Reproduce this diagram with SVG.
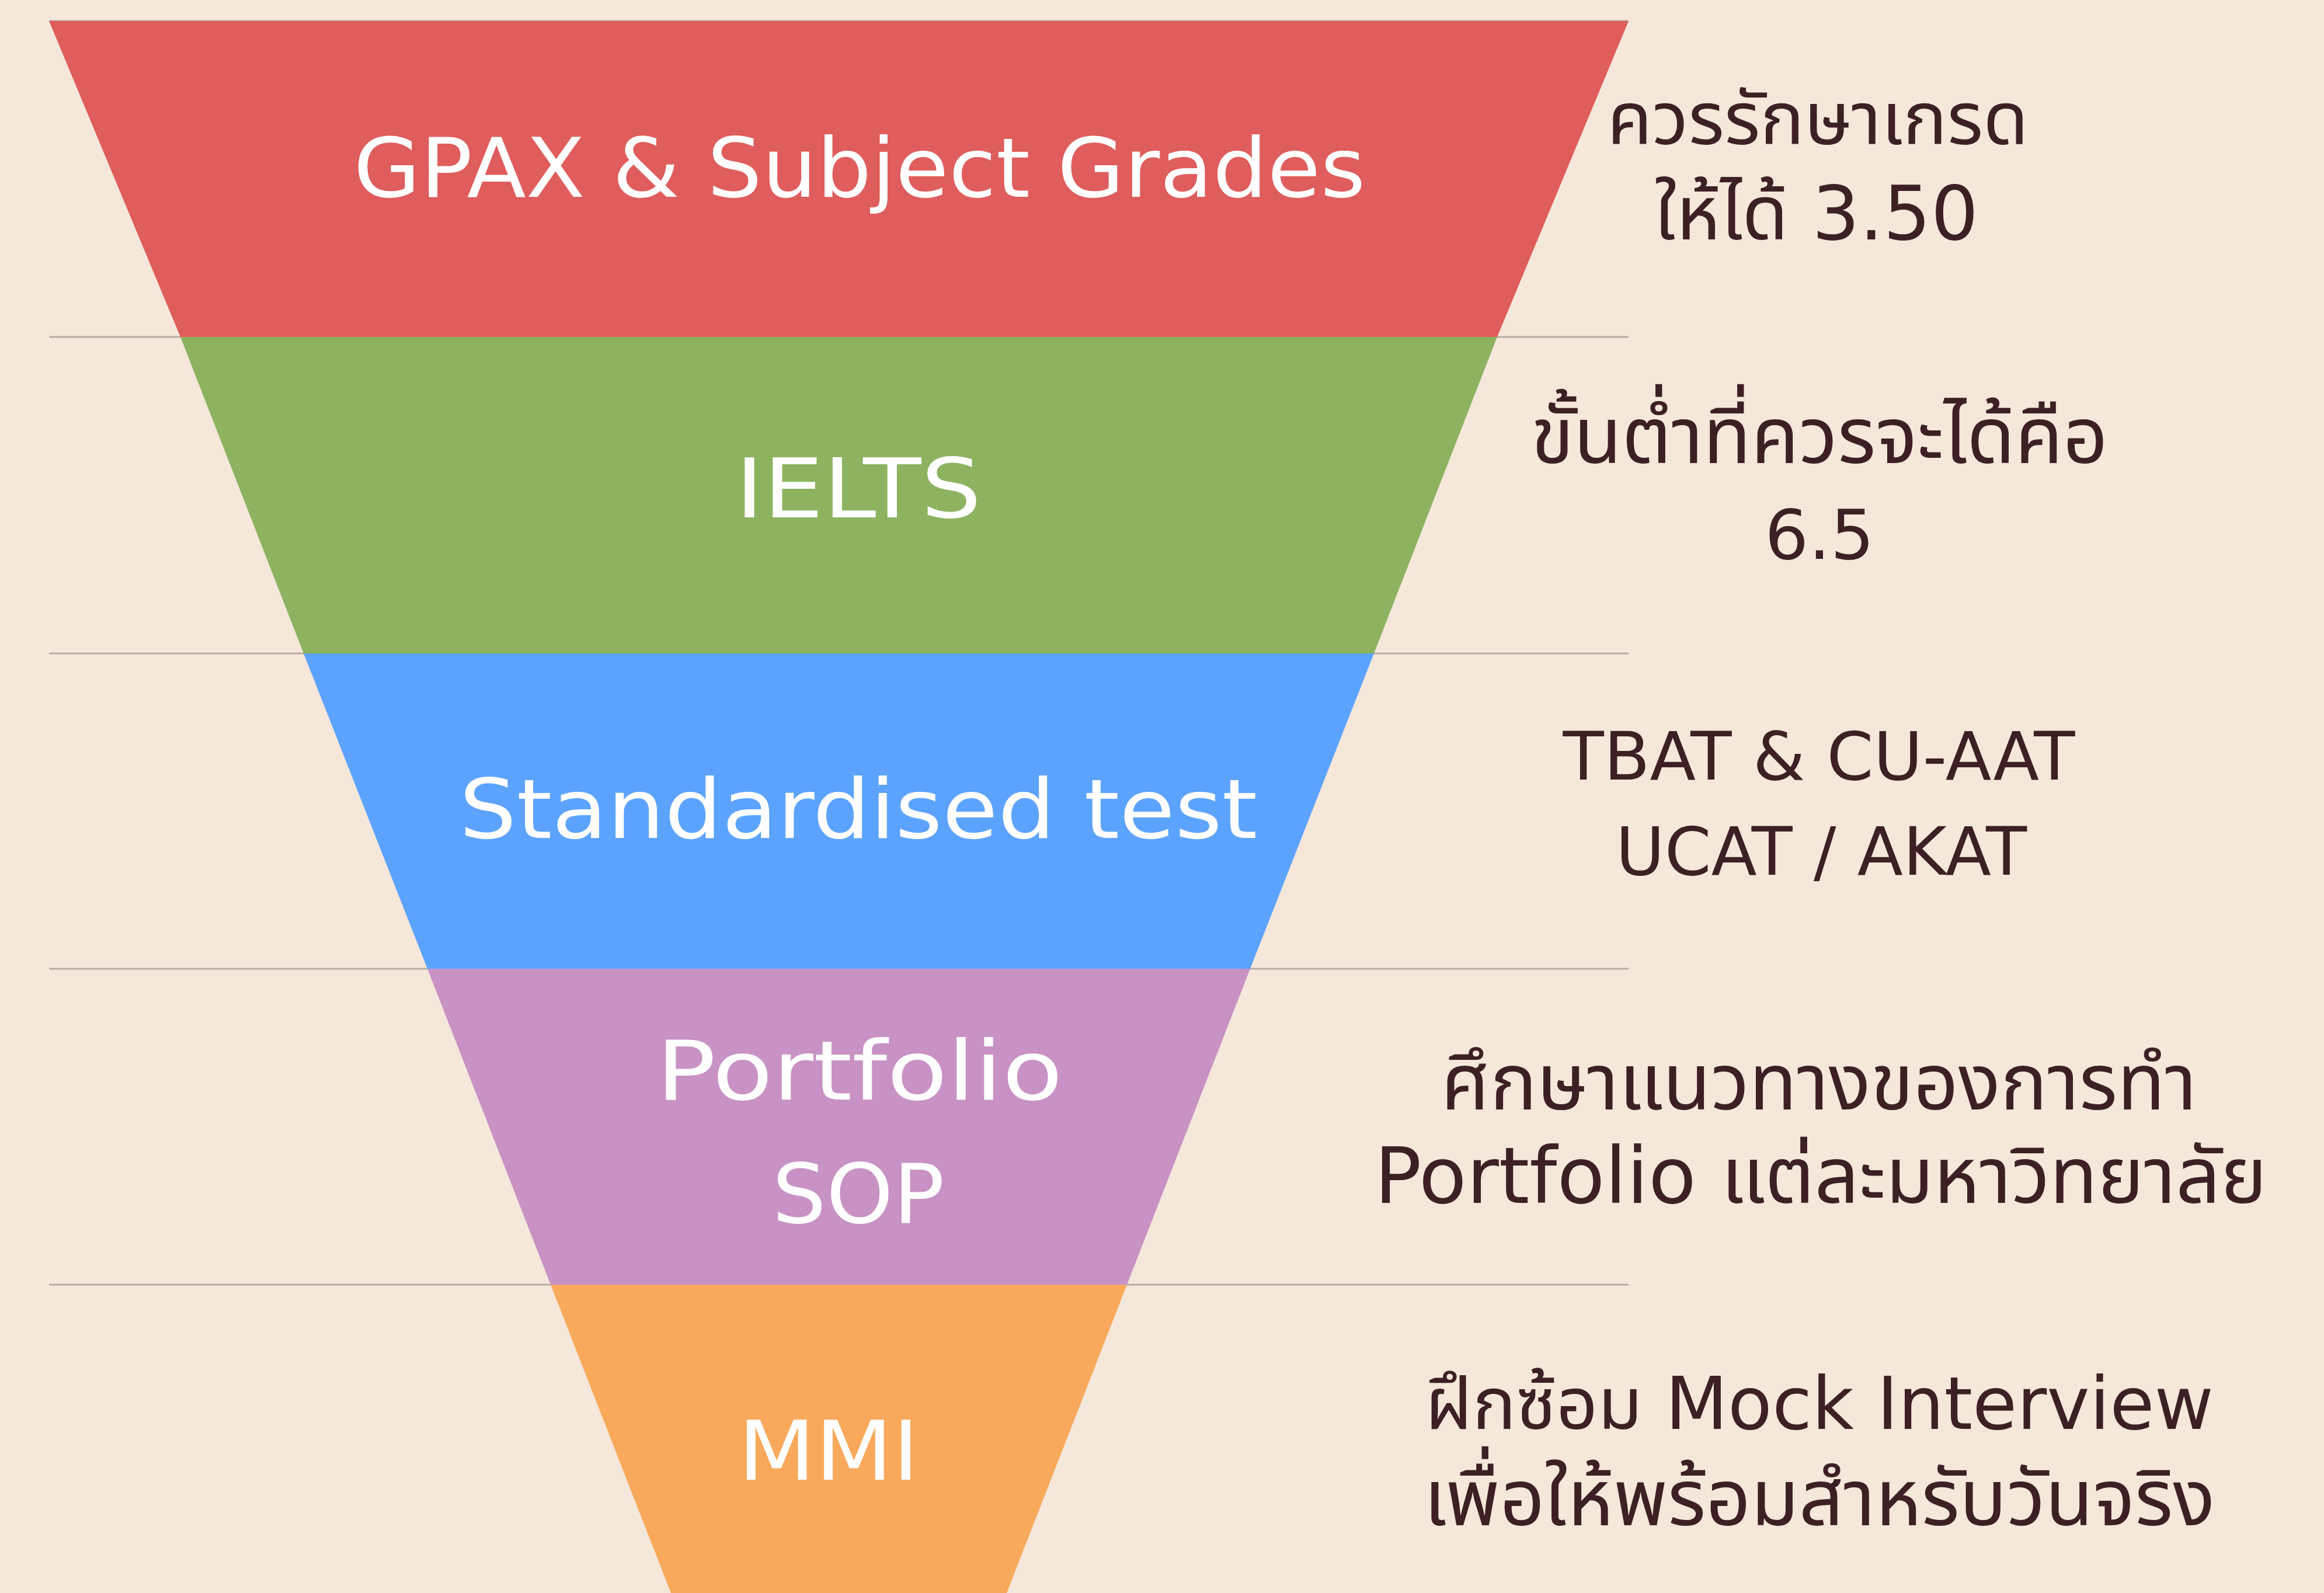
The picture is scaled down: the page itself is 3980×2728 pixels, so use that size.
<svg xmlns="http://www.w3.org/2000/svg" width="3980" height="2728" viewBox="0 0 3980 2728">
  <style>
    .lbl { font-family: "DejaVu Sans", "Noto Sans Thai", "Noto Sans Thai Looped", "Loma", "Garuda", "Noto Sans", sans-serif; fill: #ffffff; font-size: 141px; text-anchor: middle; }
    .note { font-family: "DejaVu Sans", "Noto Sans Thai", "Noto Sans Thai Looped", "Loma", "Garuda", "Noto Sans", sans-serif; fill: #3d2024; font-size: 114px; text-anchor: middle; }
    .sep { stroke: #b9ada2; stroke-width: 3; fill: none; }
  </style>
  <rect x="0" y="0" width="3980" height="2728" fill="#f5e7da"/>
  <g id="separators">
    <line class="sep" x1="84" y1="36" x2="2789" y2="36"/>
    <line class="sep" x1="84" y1="577" x2="2789" y2="577"/>
    <line class="sep" x1="84" y1="1119" x2="2789" y2="1119"/>
    <line class="sep" x1="84" y1="1659" x2="2789" y2="1659"/>
    <line class="sep" x1="84" y1="2200" x2="2789" y2="2200"/>
  </g>
  <g id="band-gpax">
    <polygon points="84,36 2789,36 2564,577 309,577" fill="#df5d5c"/>
    <text class="lbl" x="1472" y="337" textLength="1733" lengthAdjust="spacingAndGlyphs">GPAX &amp; Subject Grades</text>
  </g>
  <g id="band-ielts">
    <polygon points="309,577 2564,577 2353,1119 520,1119" fill="#8db360"/>
    <text class="lbl" x="1470" y="886" textLength="421" lengthAdjust="spacingAndGlyphs">IELTS</text>
  </g>
  <g id="band-standardised">
    <polygon points="520,1119 2353,1119 2141,1659 732,1659" fill="#5ca3ff"/>
    <text class="lbl" x="1470" y="1435" textLength="1367" lengthAdjust="spacingAndGlyphs">Standardised test</text>
  </g>
  <g id="band-portfolio">
    <polygon points="732,1659 2141,1659 1930,2200 943,2200" fill="#c892c5"/>
    <text class="lbl" x="1472" y="1883" textLength="696" lengthAdjust="spacingAndGlyphs">Portfolio</text>
    <text class="lbl" x="1470" y="2094" textLength="295" lengthAdjust="spacingAndGlyphs">SOP</text>
  </g>
  <g id="band-mmi">
    <polygon points="943,2200 1930,2200 1724,2728 1149,2728" fill="#f8a95b"/>
    <text class="lbl" x="1419" y="2534" textLength="310" lengthAdjust="spacingAndGlyphs">MMI</text>
  </g>
  <g id="note-gpax">
    <text class="note" x="3113" y="247" style="font-size:126px">ควรรักษาเกรด</text>
    <text class="note" x="3111" y="410" style="font-size:128px">ให้ได้ 3.50</text>
  </g>
  <g id="note-ielts">
    <text class="note" x="3116" y="793" style="font-size:134px">ขั้นต่ำที่ควรจะได้คือ</text>
    <text class="note" x="3116" y="957" style="font-size:118px">6.5</text>
  </g>
  <g id="note-standardised">
    <text class="note" x="3115" y="1335" textLength="877" lengthAdjust="spacingAndGlyphs">TBAT &amp; CU-AAT</text>
    <text class="note" x="3119" y="1498" textLength="704" lengthAdjust="spacingAndGlyphs">UCAT / AKAT</text>
  </g>
  <g id="note-portfolio">
    <text class="note" x="3115" y="1900" style="font-size:134px">ศึกษาแนวทางของการทำ</text>
    <text class="note" x="3118" y="2060" style="font-size:134px">Portfolio แต่ละมหาวิทยาลัย</text>
  </g>
  <g id="note-mmi">
    <text class="note" x="3116" y="2447" style="font-size:124px">ฝึกซ้อม Mock Interview</text>
    <text class="note" x="3116" y="2612" style="font-size:134px">เพื่อให้พร้อมสำหรับวันจริง</text>
  </g>
</svg>
